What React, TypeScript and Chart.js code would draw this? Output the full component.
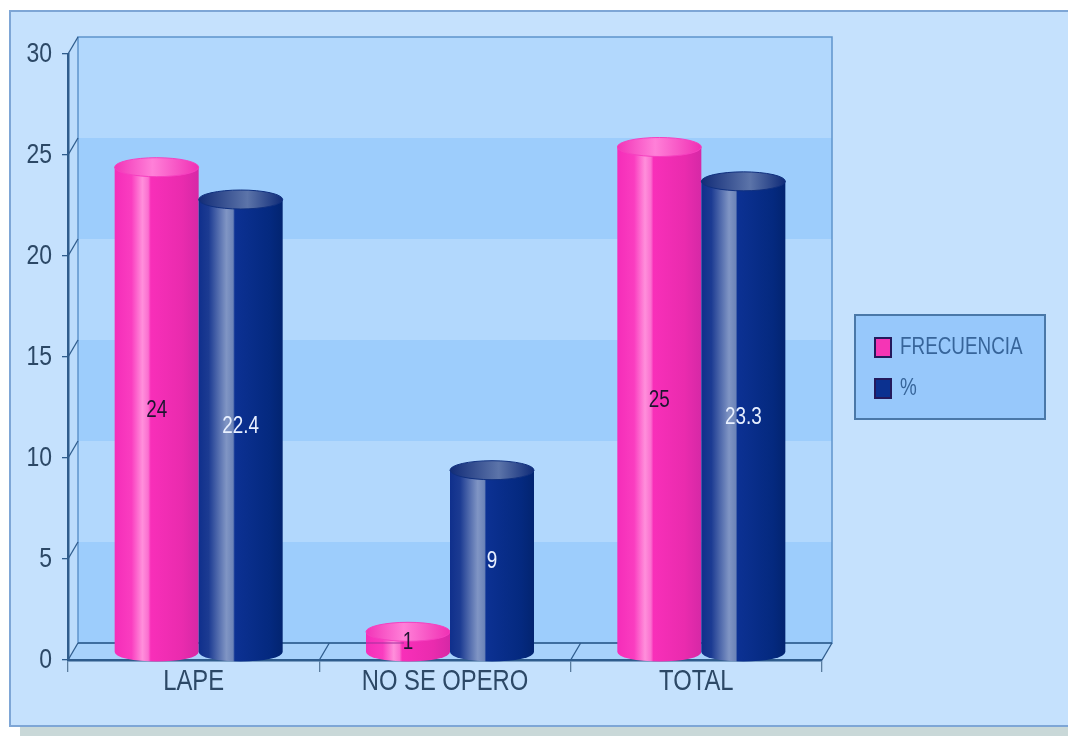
import React, { useEffect, useRef } from "react";
import { Chart, registerables } from "chart.js";

Chart.register(...registerables);

const categories = ["LAPE", "NO SE OPERO", "TOTAL"];
const frecuencia = [24, 1, 25];
const porcentaje = [22.4, 9, 23.3];
const seriesLabels = ["FRECUENCIA", "%"];
const yTicks = [0, 5, 10, 15, 20, 25, 30];

const FONT = '"Liberation Sans", Arial, sans-serif';
const AXIS_TEXT = "#2c4866";
const AXIS_LINE = "#2f5c8c";
const TEXT_SQUEEZE = 0.82;

// Offsets of the receding back wall and of the cylinders inside the box
const WALL_DX = 10;
const WALL_DY = -17;
const BAR_DX = 5;
const BAR_DY = -8;
const CAP_RY = 9.5;

type Stops = [number, string][];

const SKINS: { body: Stops; cap: Stops; rim: string; label: string }[] = [
  {
    body: [
      [0, "#f52db9"],
      [0.2, "#fa3dc0"],
      [0.33, "#ff8fdb"],
      [0.4, "#fb6fd0"],
      [0.43, "#f82fb9"],
      [0.8, "#ea2bae"],
      [1, "#d628a6"],
    ],
    cap: [
      [0, "#f234b8"],
      [0.45, "#ff80d8"],
      [1, "#f030b4"],
    ],
    rim: "#f640c0",
    label: "#1d1530",
  },
  {
    body: [
      [0, "#0f2f8c"],
      [0.12, "#1c3b92"],
      [0.33, "#8095c4"],
      [0.41, "#6c84b8"],
      [0.43, "#0c3193"],
      [0.85, "#04297f"],
      [1, "#022470"],
    ],
    cap: [
      [0, "#122c78"],
      [0.58, "#5c74a9"],
      [1, "#0f2b78"],
    ],
    rim: "#10307f",
    label: "#e8f0ff",
  },
];

function gradient(ctx: CanvasRenderingContext2D, x0: number, x1: number, stops: Stops) {
  const g = ctx.createLinearGradient(x0, 0, x1, 0);
  stops.forEach(([o, c]) => g.addColorStop(o, c));
  return g;
}

// Tall, condensed lettering: the regular face squeezed horizontally
function narrowText(
  ctx: CanvasRenderingContext2D,
  text: string,
  x: number,
  y: number,
  size: number,
  color: string,
  align: CanvasTextAlign,
) {
  ctx.save();
  ctx.translate(x, y);
  ctx.scale(TEXT_SQUEEZE, 1);
  ctx.font = `${size}px ${FONT}`;
  ctx.textAlign = align;
  ctx.textBaseline = "middle";
  ctx.fillStyle = color;
  ctx.fillText(text, 0, 0);
  ctx.restore();
}

const backdrop = {
  id: "backdrop",
  beforeDraw(chart: any) {
    const { ctx, scales } = chart;
    const x = scales.x;
    const y = scales.y;
    const l = x.left;
    const r = x.right;
    const t = y.top;
    const b = y.bottom;

    ctx.save();
    ctx.fillStyle = "#ffffff";
    ctx.fillRect(0, 0, chart.width, chart.height);

    // Panel and its drop shadow
    ctx.fillStyle = "#c9d8d8";
    ctx.fillRect(20, 726, chart.width - 20, 10);
    ctx.fillStyle = "#c5e1fd";
    ctx.fillRect(9, 10, chart.width - 9, 716);
    ctx.strokeStyle = "#7ea6d6";
    ctx.lineWidth = 2;
    ctx.strokeRect(10, 11, chart.width + 10, 715);

    // Back wall with alternating bands
    ctx.fillStyle = "#b2d8fd";
    ctx.fillRect(l + WALL_DX, t + WALL_DY, r - l, b - t);
    ctx.fillStyle = "#9dcdfc";
    for (let i = 0; i < yTicks.length - 1; i += 2) {
      const top = y.getPixelForValue(yTicks[i + 1]) + WALL_DY;
      const bot = y.getPixelForValue(yTicks[i]) + WALL_DY;
      ctx.fillRect(l + WALL_DX, top, r - l, bot - top);
    }

    // Side wall
    ctx.fillStyle = "#bcdcfc";
    ctx.beginPath();
    ctx.moveTo(l, t);
    ctx.lineTo(l + WALL_DX, t + WALL_DY);
    ctx.lineTo(l + WALL_DX, b + WALL_DY);
    ctx.lineTo(l, b);
    ctx.closePath();
    ctx.fill();

    // Floor
    ctx.fillStyle = "#a8d2fb";
    ctx.beginPath();
    ctx.moveTo(l, b);
    ctx.lineTo(l + WALL_DX, b + WALL_DY);
    ctx.lineTo(r + WALL_DX, b + WALL_DY);
    ctx.lineTo(r, b);
    ctx.closePath();
    ctx.fill();

    // Outline of the box
    ctx.strokeStyle = "#5f94cc";
    ctx.lineWidth = 1.5;
    ctx.strokeRect(l + WALL_DX, t + WALL_DY, r - l, b - t);
    ctx.strokeStyle = AXIS_LINE;
    ctx.beginPath();
    ctx.moveTo(l + WALL_DX, b + WALL_DY);
    ctx.lineTo(r + WALL_DX, b + WALL_DY);
    ctx.stroke();

    // Slanted continuations of the tick marks
    ctx.lineWidth = 1.3;
    yTicks.forEach((v) => {
      const py = y.getPixelForValue(v);
      ctx.beginPath();
      ctx.moveTo(l, py);
      ctx.lineTo(l + WALL_DX, py + WALL_DY);
      ctx.stroke();
    });
    for (let i = 1; i <= categories.length; i++) {
      const px = l + ((r - l) * i) / categories.length;
      ctx.beginPath();
      ctx.moveTo(px, b);
      ctx.lineTo(px + WALL_DX, b + WALL_DY);
      ctx.stroke();
    }

    // Axis lettering, placed from the scales
    yTicks.forEach((v) => {
      narrowText(ctx, String(v), 52, y.getPixelForValue(v), 28, AXIS_TEXT, "right");
    });
    categories.forEach((c, i) => {
      narrowText(ctx, c, x.getPixelForValue(i), b + 22, 29, AXIS_TEXT, "center");
    });
    ctx.restore();
  },
};

const cylinders = {
  id: "cylinders",
  afterDatasetsDraw(chart: any) {
    const { ctx } = chart;
    const yScale = chart.scales.y;
    const base = yScale.getPixelForValue(0) + BAR_DY;
    const floorBack = yScale.getPixelForValue(0) + WALL_DY;

    chart.data.datasets.forEach((_: any, di: number) => {
      const skin = SKINS[di];
      chart.getDatasetMeta(di).data.forEach((bar: any) => {
        const p = bar.getProps(["x", "y", "width"], true);
        const left = p.x - p.width / 2 + BAR_DX;
        const right = left + p.width;
        const cx = (left + right) / 2;
        const rx = p.width / 2;
        const top = p.y + BAR_DY;

        ctx.save();
        ctx.fillStyle = gradient(ctx, left, right, skin.body);
        ctx.beginPath();
        ctx.moveTo(left, top);
        ctx.lineTo(left, base);
        ctx.ellipse(cx, base, rx, CAP_RY, 0, Math.PI, 0, true);
        ctx.lineTo(right, top);
        ctx.closePath();
        ctx.fill();

        ctx.fillStyle = gradient(ctx, left, right, skin.cap);
        ctx.beginPath();
        ctx.ellipse(cx, top, rx, CAP_RY, 0, 0, Math.PI * 2);
        ctx.fill();
        ctx.strokeStyle = skin.rim;
        ctx.lineWidth = 1;
        ctx.stroke();

        // A squat cylinder leaves the floor's back edge showing up to its label
        if (top < floorBack && base > floorBack && top + CAP_RY * 2 > floorBack) {
          ctx.strokeStyle = "#a0309c";
          ctx.lineWidth = 1.2;
          ctx.beginPath();
          ctx.moveTo(left, floorBack);
          ctx.lineTo(cx - 4, floorBack);
          ctx.stroke();
        }
        ctx.restore();
      });
    });

    // Value labels, centred on each cylinder's shaft
    chart.data.datasets.forEach((ds: any, di: number) => {
      chart.getDatasetMeta(di).data.forEach((bar: any, i: number) => {
        const p = bar.getProps(["x", "y"], true);
        const midY = (p.y + base - BAR_DY) / 2 + BAR_DY + 1;
        narrowText(ctx, String(ds.data[i]), p.x + BAR_DX, midY, 23, SKINS[di].label, "center");
      });
    });

    // Legend box
    ctx.save();
    ctx.fillStyle = "#97c8fb";
    ctx.fillRect(854, 314, 192, 106);
    ctx.strokeStyle = "#4a78a8";
    ctx.lineWidth = 2;
    ctx.strokeRect(855, 315, 190, 104);
    chart.data.datasets.forEach((ds: any, di: number) => {
      const top = 338 + di * 41;
      ctx.fillStyle = di === 0 ? "#f535b5" : "#0b3190";
      ctx.fillRect(875, top, 16, 19);
      ctx.strokeStyle = "#241a5c";
      ctx.strokeRect(875, top, 16, 19);
      narrowText(ctx, ds.label, 900, top + 10, 23, "#37659a", "left");
    });
    ctx.restore();
  },
};

export default function App() {
  const ref = useRef<HTMLCanvasElement>(null);

  useEffect(() => {
    const chart = new Chart(ref.current!, {
      type: "bar",
      data: {
        labels: categories,
        datasets: [
          { label: seriesLabels[0], data: frecuencia, backgroundColor: "transparent", borderWidth: 0 },
          { label: seriesLabels[1], data: porcentaje, backgroundColor: "transparent", borderWidth: 0 },
        ],
      },
      options: {
        responsive: false,
        animation: false,
        events: [],
        layout: { padding: { top: 54, right: 246, left: 0, bottom: 0 } },
        datasets: { bar: { categoryPercentage: 0.6685, barPercentage: 1 } },
        plugins: { legend: { display: false }, tooltip: { enabled: false }, title: { display: false } },
        scales: {
          x: {
            afterFit: (s: any) => {
              s.height = 76;
            },
            grid: { drawOnChartArea: false, color: "#5a7c9e", tickLength: 12, lineWidth: 1.3 },
            border: { color: AXIS_LINE, width: 2.5 },
            ticks: { display: false },
          },
          y: {
            min: 0,
            max: 30,
            afterFit: (s: any) => {
              s.width = 68;
            },
            afterBuildTicks: (s: any) => {
              s.ticks = yTicks.map((value) => ({ value }));
            },
            grid: { drawOnChartArea: false, color: AXIS_LINE, tickLength: 6, lineWidth: 1.3 },
            border: { color: AXIS_LINE, width: 2.5 },
            ticks: { display: false },
          },
        },
      },
      plugins: [backdrop, cylinders],
    } as any);
    return () => chart.destroy();
  }, []);

  return (
    <canvas
      ref={ref}
      width={1068}
      height={736}
      style={{ position: "absolute", left: 0, top: 0, display: "block" }}
    />
  );
}
